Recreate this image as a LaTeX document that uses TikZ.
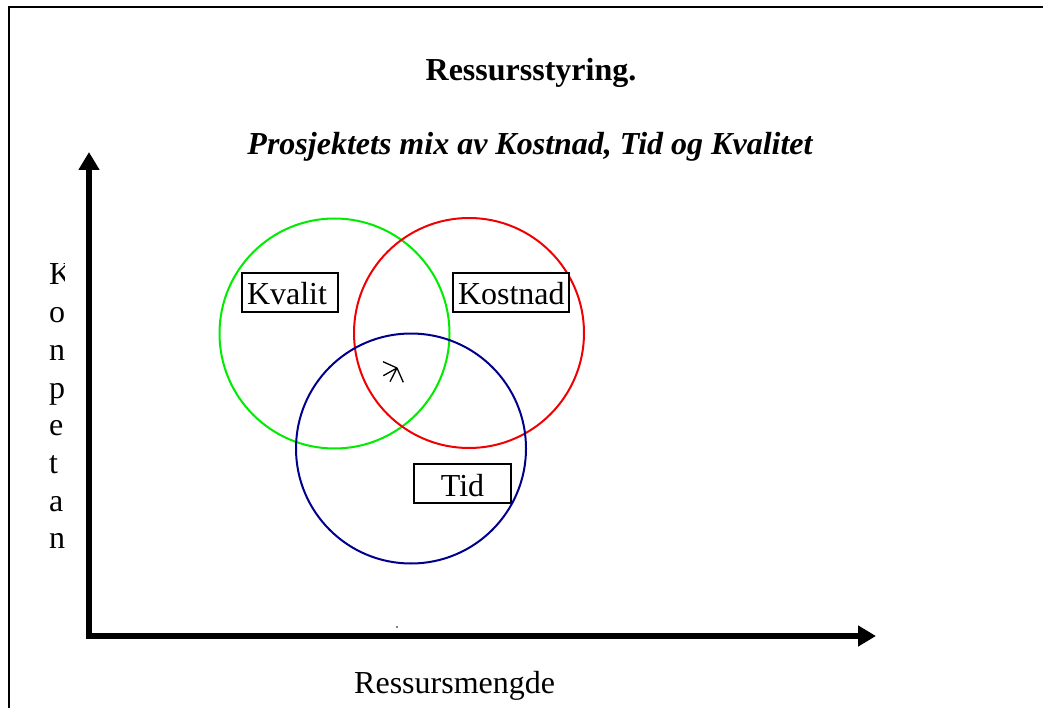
\documentclass[tikz,border=0pt]{standalone}
\usepackage{fontspec}
\setmainfont{Liberation Serif}
\usetikzlibrary{arrows.meta}
\definecolor{navyc}{RGB}{0,0,140}
\definecolor{greenc}{RGB}{0,235,0}
\definecolor{redc}{RGB}{240,0,0}
\tikzset{
  big/.style={font=\fontsize{32}{38}\selectfont},
  ring/.style={circle, line width=2, minimum size=230, inner sep=0},
  labelbox/.style={draw, fill=white, line width=1.3, minimum height=39, inner ysep=0, text height=30, text depth=5, big},
  axis/.style={line width=5.5, line join=miter, {Triangle[length=18pt,width=20pt]}-{Triangle[length=18pt,width=20pt]}},
  letter/.style={anchor=base west, inner sep=0, big},
}
\begin{document}
\begin{tikzpicture}[x=1pt,y=-1pt]
\useasboundingbox (0,0) rectangle (1043,708);
% frame
\draw[line width=2.2] (9,730) -- (9,7) -- (1060,7);
% titles
\node[anchor=base, inner sep=0, big, font=\fontsize{32}{38}\selectfont\bfseries] (title) at (531,81) {Ressursstyring.};
\node[anchor=base, inner sep=0, font=\fontsize{32}{38}\selectfont\bfseries\itshape] (sub) at (530,155) {Prosjektets mix av Kostnad, Tid og Kvalitet};
% axes
\coordinate (O) at (89,636);
\coordinate (ytip) at (89,152);
\coordinate (xtip) at (876,636);
\draw[axis] (ytip) -- (O) -- (xtip);
\fill (397,627) circle (0.8);
% y label
\begin{scope}
\clip (30,250) rectangle (64.5,570);
\node[letter] (l1) at (49,285) {K};
\node[letter] (l2) at (49,323) {o};
\node[letter] (l3) at (49,360) {n};
\node[letter] (l4) at (49,398) {p};
\node[letter] (l5) at (49,435) {e};
\node[letter] (l6) at (49,473) {t};
\node[letter] (l7) at (49,511) {a};
\node[letter] (l8) at (49,548) {n};
\end{scope}
% x label
\node[anchor=base west, inner sep=0, big] (xlab) at (354,693) {Ressursmengde};
% circles
\node[ring, draw=greenc] (ckval) at (334.5,333.5) {};
\node[ring, draw=redc] (ckost) at (469,333) {};
\node[ring, draw=navyc] (ctid) at (411,448.5) {};
% boxes
\node[labelbox, minimum width=96, text width=86, inner xsep=5, align=left] (bkval) at (290,292.5) {Kvalit};
\node[labelbox, minimum width=116, text width=106, inner xsep=5, align=left] (bkost) at (511,292.5) {Kostnad};
\node[labelbox, minimum width=97, text width=87, inner xsep=5, align=center] (btid) at (462.5,483.5) {Tid};
% centre symbol
\coordinate (tip) at (397,368);
\coordinate (s1) at (383,361.7);
\coordinate (s2) at (383.3,375.7);
\coordinate (s3) at (390,381.7);
\coordinate (s4) at (403.3,382.3);
\draw[line width=1.3] (s1) -- (tip) (s2) -- (tip) (s3) -- (tip) (s4) -- (tip);
\end{tikzpicture}
\end{document}
